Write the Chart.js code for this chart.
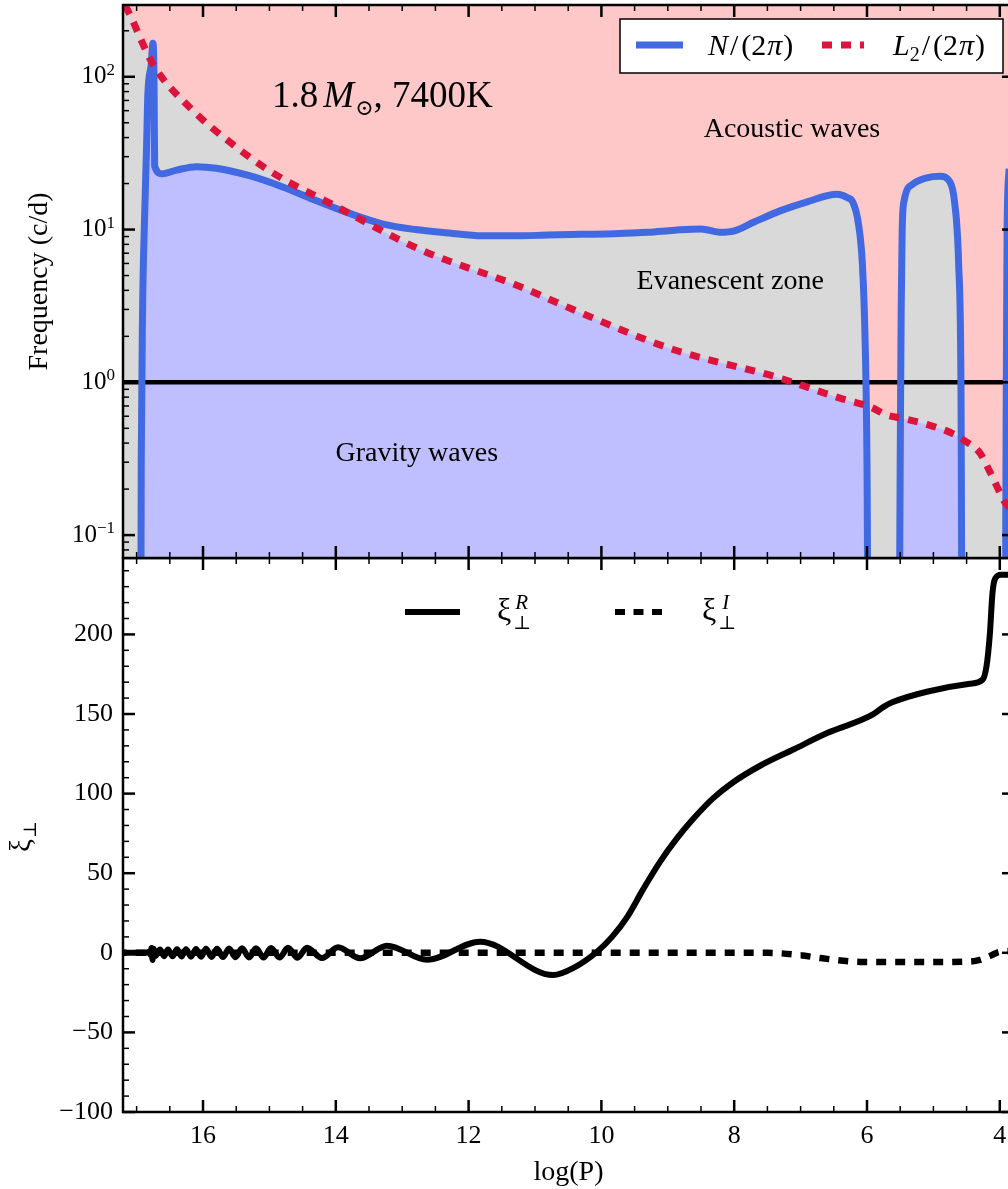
<!DOCTYPE html>
<html><head><meta charset="utf-8">
<script src="https://cdn.jsdelivr.net/npm/chart.js@4.4.1/dist/chart.umd.min.js"></script>
<style>
html,body{margin:0;padding:0;background:#fff;overflow:hidden;width:1008px;height:1189px;}
canvas{position:absolute;left:0;top:0;}
</style></head><body>
<canvas id="cBot" width="1020" height="1189"></canvas>
<canvas id="cTop" width="1020" height="1189"></canvas>
<script>
// ---------------- data ----------------
const X_RANGE = [3.786, 17.205];          // log(P) axis limits (reversed)
const FREQ_RANGE = [0.0708, 295];          // c/d, log axis
const XI_RANGE = [-100, 248];
const xTickValues = [4, 6, 8, 10, 12, 14, 16];
const freqDecades = [0.1, 1, 10, 100];
const xiTickValues = [-100, -50, 0, 50, 100, 150, 200];

// Brunt-Vaisala N/(2pi)
const nLogP = [17.30, 16.94, 16.93, 16.91, 16.88, 16.85, 16.83, 16.78, 16.755, 16.738, 16.728, 16.62, 16.40, 16.10, 15.80, 15.30, 14.80, 14.30, 13.80, 13.30, 12.80, 12.30, 11.80, 11.30, 10.80, 10.30, 9.80, 9.30, 8.90, 8.50, 8.20, 8.00, 7.70, 7.30, 6.90, 6.45, 6.30, 6.21, 6.13, 6.07, 6.03, 6.00, 5.98, 5.52, 5.50, 5.485, 5.47, 5.44, 5.31, 5.10, 4.90, 4.75, 4.68, 4.62, 4.585, 4.565, 3.92, 3.905, 3.89, 3.86];
const nFreq = [0.01, 0.01, 0.3, 3, 12, 35, 78, 120, 166, 100, 26, 23.2, 24.5, 25.8, 25.2, 22.5, 19, 15.5, 12.8, 10.9, 10.0, 9.5, 9.1, 9.1, 9.2, 9.3, 9.4, 9.6, 9.9, 10.1, 9.6, 9.8, 11.2, 13.3, 15.2, 17, 16.2, 15, 11, 6, 2, 0.3, 0.01, 0.01, 0.3, 3, 10, 15.5, 19.8, 21.8, 22.3, 20.5, 15, 6, 1, 0.01, 0.01, 0.5, 10, 25];

// Lamb frequency L2/(2pi)
const l2LogP = [17.30, 17.10, 16.75, 16.20, 15.55, 14.95, 14.04, 12.73, 11.23, 10.47, 8.92, 7.36, 6.36, 5.95, 5.70, 5.50, 5.10, 4.70, 4.55, 4.30, 4.15, 4.00, 3.92, 3.75];
const l2Freq = [380, 254, 120, 63, 36, 23.5, 14.5, 7.4, 4.24, 3.05, 1.64, 1.08, 0.776, 0.69, 0.61, 0.585, 0.53, 0.46, 0.42, 0.345, 0.26, 0.19, 0.163, 0.14];

// reference frequency line
const refLogP = [17.4, 3.7];
const refFreq = [1, 1];

// xi_perp real part
const xiRLogP = [17.30, 16.86, 16.81, 16.79, 16.775, 16.76, 16.745, 16.72, 16.648, 16.587, 16.527, 16.459, 16.392, 16.324, 16.256, 16.181, 16.105, 16.030, 15.955, 15.872, 15.789, 15.699, 15.608, 15.511, 15.413, 15.307, 15.202, 15.089, 14.976, 14.848, 14.720, 14.577, 14.434, 14.208, 13.967, 13.636, 13.229, 12.627, 11.828, 10.729, 10.40, 10.07, 9.84, 9.61, 9.37, 9.12, 8.86, 8.62, 8.32, 8.02, 7.61, 7.11, 6.60, 5.91, 5.75, 5.61, 5.10, 4.45, 4.26, 4.20, 4.15, 4.11, 4.07, 3.98, 3.75];
const xiRVal = [0, 0, 0.6, -1.2, 3, -4.5, 2.5, -2, 2.0, -2.1, 2.1, -2.2, 2.2, -2.3, 2.3, -2.4, 2.4, -2.5, 2.5, -2.6, 2.6, -2.7, 2.7, -2.8, 2.8, -2.9, 2.9, -3.0, 3.0, -3.0, 3.1, -3.1, 3.2, -3.3, 3.5, -3.4, 4.5, -4.4, 7.0, -14.0, -9, 0.5, 10, 22.6, 40, 57, 72, 84, 97, 107, 117.5, 127.7, 138, 149.7, 154.5, 157.5, 164, 169, 171.5, 180, 200, 226, 235, 237.5, 237.5];

// xi_perp imaginary part
const xiILogP = [17.30, 7.50, 7.00, 6.70, 6.10, 5.00, 4.45, 4.30, 4.15, 4.00, 3.75];
const xiIVal = [0, 0, -1.5, -3.3, -5.7, -5.8, -5.5, -4.5, -2, 0.6, 1];

// ---------------- style ----------------
const SERIF = "'Liberation Serif','Times New Roman','DejaVu Serif',serif";
const fnt = (size, style) => (style ? style + ' ' : '') + size + 'px ' + SERIF;
const COL = { gray: '#d9d9d9', pink: '#ffc8c8', blueFill: '#bfbfff', n: '#4169e1', l2: '#dc143c' };
const MAJ = 12, MIN = 6, MAJW = 2.5, MINW = 1.5, FRAMEW = 2.5;
const CANVAS_H = 1189, SPLIT_Y = 558, TOP_Y = 5, AXIS_W = 123, BOTTOM_Y = 1112, RIGHT_PAD = 6;
Chart.defaults.color = '#000';

const pts = (xs, ys) => xs.map((x, i) => ({ x, y: ys[i] }));

function tickLine(ctx, x1, y1, x2, y2, w) {
  ctx.lineWidth = w; ctx.beginPath(); ctx.moveTo(x1, y1); ctx.lineTo(x2, y2); ctx.stroke();
}
function drawXTicks(ctx, xs, a) {
  const lo = Math.min(xs.min, xs.max), hi = Math.max(xs.min, xs.max);
  for (let v = Math.ceil(lo * 2) / 2; v <= hi + 1e-9; v += 0.5) {
    const px = xs.getPixelForValue(v);
    const major = Math.abs(v / 2 - Math.round(v / 2)) < 1e-6;
    const len = major ? MAJ : MIN, w = major ? MAJW : MINW;
    tickLine(ctx, px, a.top, px, a.top + len, w);
    tickLine(ctx, px, a.bottom, px, a.bottom - len, w);
  }
}
function drawRuns(ctx, x, y, runs) {
  let cx = x;
  for (const r of runs) {
    ctx.font = fnt(r.size, r.style);
    cx += r.gap || 0;
    ctx.fillText(r.t, cx, y + (r.dy || 0));
    if (!r.stay) cx += ctx.measureText(r.t).width;
  }
  return cx;
}
function frame(ctx, a) {
  ctx.strokeStyle = '#000'; ctx.lineWidth = FRAMEW;
  ctx.strokeRect(a.left, a.top, a.right - a.left, a.bottom - a.top);
}

// ---------------- top panel ----------------
const topDecor = {
  id: 'topDecor',
  beforeDraw(chart) {
    const { ctx, chartArea: a } = chart;
    ctx.save(); ctx.fillStyle = COL.pink;
    ctx.fillRect(a.left, a.top, a.right - a.left, a.bottom - a.top);
    ctx.restore();
  },
  afterDraw(chart) {
    const { ctx, chartArea: a, scales: { x, y } } = chart;
    ctx.save();
    frame(ctx, a);
    drawXTicks(ctx, x, a);
    for (let e = -2; e <= 2; e++) {
      for (let k = 1; k <= 9; k++) {
        const v = k * Math.pow(10, e);
        if (v < y.min || v > y.max) continue;
        const py = y.getPixelForValue(v);
        const major = k === 1;
        tickLine(ctx, a.left, py, a.left + (major ? MAJ : MIN), py, major ? MAJW : MINW);
        if (major) tickLine(ctx, a.right, py, a.right - MAJ, py, MAJW);
      }
    }
    ctx.fillStyle = '#000';
    for (const d of freqDecades) {
      const e = Math.round(Math.log10(d));
      const es = e < 0 ? '\u2212' + (-e) : String(e);
      const py = y.getPixelForValue(d);
      ctx.font = fnt(17); const ew = ctx.measureText(es).width;
      const xr = AXIS_W - 8;
      ctx.textAlign = 'right'; ctx.textBaseline = 'alphabetic';
      ctx.fillText(es, xr, py - 2);
      ctx.font = fnt(25); ctx.textBaseline = 'middle';
      ctx.fillText('10', xr - ew, py);
    }
    ctx.textAlign = 'center'; ctx.textBaseline = 'middle'; ctx.font = fnt(28);
    ctx.fillText('Acoustic waves', x.getPixelForValue(7.13), y.getPixelForValue(45));
    ctx.fillText('Evanescent zone', x.getPixelForValue(8.06), y.getPixelForValue(4.57));
    ctx.fillText('Gravity waves', x.getPixelForValue(12.78), y.getPixelForValue(0.339));
    ctx.textAlign = 'left'; ctx.textBaseline = 'alphabetic';
    drawRuns(ctx, x.getPixelForValue(14.96), y.getPixelForValue(63.7), [
      { t: '1.8', size: 37 }, { t: 'M', size: 37, style: 'italic', gap: 5 },
      { t: '\u2299', size: 22, dy: 8, gap: 1 }, { t: ', 7400K', size: 37 }
    ]);
    const bx = a.right - 394, by = a.top + 14, bw = 383, bh = 54;
    ctx.fillStyle = '#fff'; ctx.fillRect(bx, by, bw, bh);
    ctx.strokeStyle = '#000'; ctx.lineWidth = 1.5; ctx.strokeRect(bx, by, bw, bh);
    const ly = by + 26;
    ctx.lineCap = 'butt';
    ctx.strokeStyle = COL.n; ctx.lineWidth = 7;
    ctx.beginPath(); ctx.moveTo(bx + 16, ly); ctx.lineTo(bx + 63, ly); ctx.stroke();
    ctx.strokeStyle = COL.l2; ctx.setLineDash([10, 9]);
    ctx.beginPath(); ctx.moveTo(bx + 202, ly); ctx.lineTo(bx + 244, ly); ctx.stroke();
    ctx.setLineDash([]);
    ctx.fillStyle = '#000';
    const tb = by + 36;
    drawRuns(ctx, bx + 88, tb, [
      { t: 'N', size: 30, style: 'italic' }, { t: '/', size: 30, gap: 2 },
      { t: '(2', size: 30, gap: 3 }, { t: '\u03c0', size: 30, style: 'italic', gap: 1 }, { t: ')', size: 30, gap: 1 }
    ]);
    drawRuns(ctx, bx + 273, tb, [
      { t: 'L', size: 30, style: 'italic' }, { t: '2', size: 20, dy: 6 }, { t: '/', size: 30, gap: 2 },
      { t: '(2', size: 30, gap: 3 }, { t: '\u03c0', size: 30, style: 'italic', gap: 1 }, { t: ')', size: 30, gap: 1 }
    ]);
    ctx.restore();
  }
};

const lineBase = { pointRadius: 0, cubicInterpolationMode: 'monotone', clip: 0 };
new Chart(document.getElementById('cTop'), {
  type: 'line',
  data: {
    datasets: [
      { ...lineBase, label: 'L2/(2π)', data: pts(l2LogP, l2Freq), borderColor: COL.l2, borderWidth: 7, borderDash: [10, 9], fill: false },
      { ...lineBase, label: 'N/(2π)', data: pts(nLogP, nFreq), borderColor: COL.n, borderWidth: 7, fill: false },
      { ...lineBase, label: 'ref', data: pts(refLogP, refFreq), borderColor: '#000', borderWidth: 4.5, cubicInterpolationMode: 'default', fill: false },
      { ...lineBase, label: 'evanescent above N', data: pts(l2LogP, l2Freq), borderWidth: 0, borderColor: 'rgba(0,0,0,0)', fill: { target: 5, above: COL.gray, below: 'rgba(0,0,0,0)' } },
      { ...lineBase, label: 'gravity', data: pts(l2LogP, l2Freq), borderWidth: 0, borderColor: 'rgba(0,0,0,0)', backgroundColor: COL.blueFill, fill: 'start' },
      { ...lineBase, label: 'evanescent below N', data: pts(nLogP, nFreq), borderWidth: 0, borderColor: 'rgba(0,0,0,0)', backgroundColor: COL.gray, fill: 'start' }
    ]
  },
  options: {
    responsive: false, animation: false, devicePixelRatio: 1,
    layout: { padding: { top: TOP_Y, right: RIGHT_PAD, bottom: CANVAS_H - SPLIT_Y, left: 0 } },
    plugins: { legend: { display: false }, tooltip: { enabled: false }, filler: { drawTime: 'beforeDatasetsDraw', propagate: false } },
    events: [],
    scales: {
      x: { type: 'linear', reverse: true, min: X_RANGE[0], max: X_RANGE[1], display: false },
      y: {
        type: 'logarithmic', min: FREQ_RANGE[0], max: FREQ_RANGE[1],
        grid: { display: false, drawTicks: false }, border: { display: false },
        ticks: { display: false },
        title: { display: true, text: 'Frequency (c/d)', font: { family: SERIF, size: 28 }, padding: { top: 23, bottom: 0 }, color: '#000' },
        afterFit: s => { s.width = AXIS_W; }
      }
    }
  },
  plugins: [topDecor]
});

// ---------------- bottom panel ----------------
const botDecor = {
  id: 'botDecor',
  afterDraw(chart) {
    const { ctx, chartArea: a, scales: { x, y } } = chart;
    ctx.save();
    frame(ctx, a);
    drawXTicks(ctx, x, a);
    for (let v = Math.ceil(y.min / 10) * 10; v <= y.max; v += 10) {
      const py = y.getPixelForValue(v);
      const major = v % 50 === 0;
      tickLine(ctx, a.left, py, a.left + (major ? MAJ : MIN), py, major ? MAJW : MINW);
      if (major) tickLine(ctx, a.right, py, a.right - MAJ, py, MAJW);
    }
    ctx.fillStyle = '#000';
    ctx.save();
    ctx.translate(0, (a.top + a.bottom) / 2);
    ctx.rotate(-Math.PI / 2);
    ctx.textAlign = 'left'; ctx.textBaseline = 'alphabetic';
    drawRuns(ctx, -17, 30, [{ t: '\u03be', size: 29 }, { t: '\u22a5', size: 18, dy: 6, gap: 1 }]);
    ctx.restore();
    const ly = a.top + 54;
    ctx.strokeStyle = '#000'; ctx.lineWidth = 6; ctx.lineCap = 'butt';
    ctx.beginPath(); ctx.moveTo(405, ly); ctx.lineTo(460, ly); ctx.stroke();
    ctx.setLineDash([10, 8.5]);
    ctx.beginPath(); ctx.moveTo(615, ly); ctx.lineTo(662, ly); ctx.stroke();
    ctx.setLineDash([]);
    ctx.textAlign = 'left'; ctx.textBaseline = 'alphabetic';
    drawRuns(ctx, 497, ly + 8, [
      { t: '\u03be', size: 32 }, { t: '\u22a5', size: 19, dy: 9, gap: 2, stay: true }, { t: 'R', size: 21, style: 'italic', dy: -11, gap: 2 }
    ]);
    drawRuns(ctx, 702, ly + 8, [
      { t: '\u03be', size: 32 }, { t: '\u22a5', size: 19, dy: 9, gap: 2, stay: true }, { t: 'I', size: 21, style: 'italic', dy: -11, gap: 4 }
    ]);
    ctx.restore();
  }
};

new Chart(document.getElementById('cBot'), {
  type: 'line',
  data: {
    datasets: [
      { pointRadius: 0, cubicInterpolationMode: 'monotone', label: 'xi_R', data: pts(xiRLogP, xiRVal), borderColor: '#000', borderWidth: 6, fill: false },
      { pointRadius: 0, cubicInterpolationMode: 'monotone', label: 'xi_I', data: pts(xiILogP, xiIVal), borderColor: '#000', borderWidth: 6.5, borderDash: [10, 9], fill: false }
    ]
  },
  options: {
    responsive: false, animation: false, devicePixelRatio: 1,
    layout: { padding: { top: SPLIT_Y, right: RIGHT_PAD, bottom: 0, left: 0 } },
    plugins: { legend: { display: false }, tooltip: { enabled: false } },
    events: [],
    scales: {
      x: {
        type: 'linear', reverse: true, min: X_RANGE[0], max: X_RANGE[1],
        grid: { display: false, drawTicks: false }, border: { display: false },
        afterBuildTicks: s => { s.ticks = xTickValues.map(v => ({ value: v })); },
        ticks: { font: { family: SERIF, size: 26 }, padding: 9, maxRotation: 0, autoSkip: false, color: '#000' },
        title: { display: true, text: 'log(P)', font: { family: SERIF, size: 28 }, padding: { top: 0, bottom: 0 }, color: '#000' },
        afterFit: s => { s.height = CANVAS_H - BOTTOM_Y; }
      },
      y: {
        type: 'linear', min: XI_RANGE[0], max: XI_RANGE[1],
        grid: { display: false, drawTicks: false }, border: { display: false },
        afterBuildTicks: s => { s.ticks = xiTickValues.map(v => ({ value: v })); },
        ticks: { font: { family: SERIF, size: 26 }, padding: 10, color: '#000', autoSkip: false,
          callback: v => (v < 0 ? '\u2212' + Math.abs(v) : String(v)) },
        afterFit: s => { s.width = AXIS_W; }
      }
    }
  },
  plugins: [botDecor]
});
</script></body></html>
